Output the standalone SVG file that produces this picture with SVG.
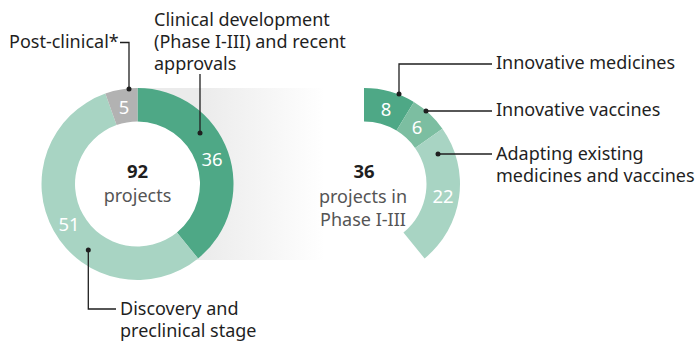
<svg xmlns="http://www.w3.org/2000/svg" width="696" height="342" viewBox="0 0 696 342">
<style>
text{font-family:"Noto Sans","Open Sans",sans-serif;}
.lbl{font-size:18px;fill:#1f1f1f;}
.num{font-size:18.5px;fill:#ffffff;text-anchor:middle;}
.big{font-size:18.5px;font-weight:bold;fill:#1f1f1f;text-anchor:middle;}
.sub{font-size:18px;fill:#555555;text-anchor:middle;}
.lead{fill:none;stroke:#1f1f1f;stroke-width:1.3;}
.dot{fill:#1f1f1f;}
.dark{fill:#4ea886;}
.mid{fill:#7cbea1;}
.light{fill:#a8d4c3;}
.gray{fill:#b2b2b2;}
</style>
<defs>
<linearGradient id="band" gradientUnits="userSpaceOnUse" x1="200" y1="0" x2="325" y2="0">
<stop offset="0" stop-color="#ebebeb"/>
<stop offset="1" stop-color="#ffffff"/>
</linearGradient>
</defs>
<rect x="137.5" y="88" width="192" height="172" fill="url(#band)"/>
<g id="left-donut">
<circle cx="137.5" cy="184" r="63" fill="#ffffff"/>
<path class="dark" d="M137.5,88 A96,96 0 0 1 198.08,258.48 L176.94,232.49 A62.5,62.5 0 0 0 137.5,121.5 Z"/>
<path class="light" d="M198.08,258.48 A96,96 0 1 1 105.34,93.55 L116.56,125.11 A62.5,62.5 0 1 0 176.94,232.49 Z"/>
<path class="gray" d="M105.34,93.55 A96,96 0 0 1 137.5,88 L137.5,121.5 A62.5,62.5 0 0 0 116.56,125.11 Z"/>
<text class="num" x="124" y="113.5">5</text>
<text class="num" x="212" y="166">36</text>
<text class="num" x="69" y="230.5">51</text>
<text class="big" x="137.5" y="178">92</text>
<text class="sub" x="137.5" y="202">projects</text>
</g>
<g id="right-donut">
<path class="dark" d="M364,88 A96,96 0 0 1 413.88,101.98 L396.48,130.60 A62.5,62.5 0 0 0 364,121.5 Z"/>
<path class="mid" d="M413.88,101.98 A96,96 0 0 1 442.43,128.64 L415.06,147.96 A62.5,62.5 0 0 0 396.48,130.60 Z"/>
<path class="light" d="M442.43,128.64 A96,96 0 0 1 424.58,258.48 L403.44,232.49 A62.5,62.5 0 0 0 415.06,147.96 Z"/>
<text class="num" x="386" y="115.5">8</text>
<text class="num" x="417" y="133.5">6</text>
<text class="num" x="443" y="202.5">22</text>
<text class="big" x="364" y="178">36</text>
<text class="sub" x="363" y="203">projects in</text>
<text class="sub" x="363" y="226">Phase I-III</text>
</g>
<g id="label-postclinical">
<text class="lbl" x="9" y="48">Post-clinical*</text>
</g>
<g id="label-clinical">
<text class="lbl" x="154" y="26">Clinical development</text>
<text class="lbl" x="154" y="48">(Phase I-III) and recent</text>
<text class="lbl" x="154" y="70">approvals</text>
</g>
<g id="label-discovery">
<text class="lbl" x="120" y="315">Discovery and</text>
<text class="lbl" x="120" y="337">preclinical stage</text>
</g>
<g id="label-medicines">
<text class="lbl" x="496" y="69">Innovative medicines</text>
</g>
<g id="label-vaccines">
<text class="lbl" x="496" y="116">Innovative vaccines</text>
</g>
<g id="label-adapting">
<text class="lbl" x="496" y="160">Adapting existing</text>
<text class="lbl" x="496" y="182">medicines and vaccines</text>
</g>
<g id="connectors">
<polyline class="lead" points="120,42.5 129,42.5 129,89"/>
<circle class="dot" cx="129" cy="89" r="2.5"/>
<polyline class="lead" points="200,74 200,133"/>
<circle class="dot" cx="200" cy="133" r="2.5"/>
<polyline class="lead" points="88.3,250 88.3,309 116,309"/>
<circle class="dot" cx="88.3" cy="250" r="2.5"/>
<polyline class="lead" points="492,64 399,64 399,94"/>
<circle class="dot" cx="399" cy="94" r="2.5"/>
<polyline class="lead" points="426,111 492,111"/>
<circle class="dot" cx="426" cy="111" r="2.5"/>
<polyline class="lead" points="438,154 492,154"/>
<circle class="dot" cx="438" cy="154" r="2.5"/>
</g>
</svg>
